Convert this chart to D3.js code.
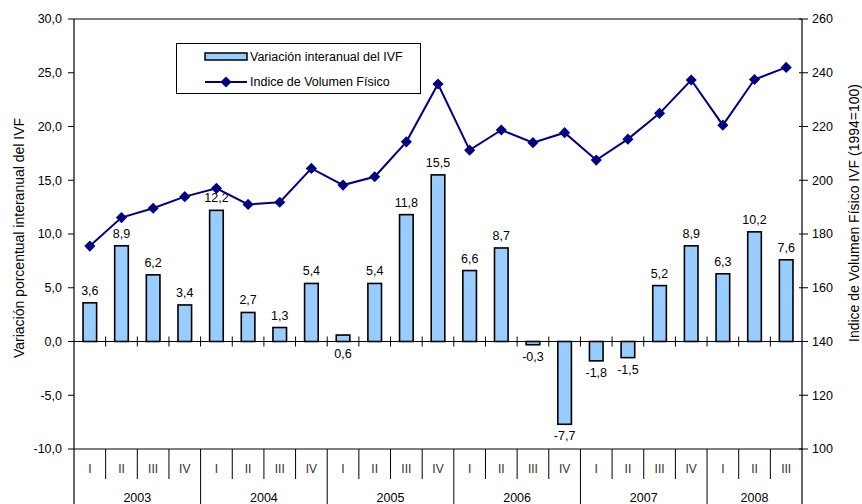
<!DOCTYPE html>
<html>
<head>
<meta charset="utf-8">
<script src="https://cdn.jsdelivr.net/npm/d3@7/dist/d3.min.js"></script>
<style>
  html, body { margin: 0; padding: 0; background: #fff; }
  svg { display: block; }
  text { font-family: "Liberation Sans Narrow", "Arial Narrow", "Liberation Sans", Arial, sans-serif; }
</style>
</head>
<body>
<svg id="chart" width="862" height="504"></svg>
<script>
const years = ["2003", "2004", "2005", "2006", "2007", "2008"];
const quarterNames = ["I", "II", "III", "IV"];
const quarters = ["I","II","III","IV","I","II","III","IV","I","II","III","IV","I","II","III","IV","I","II","III","IV","I","II","III"];
const yearOfQuarter = ["2003","2003","2003","2003","2004","2004","2004","2004","2005","2005","2005","2005","2006","2006","2006","2006","2007","2007","2007","2007","2008","2008","2008"];
const variacion = [3.6, 8.9, 6.2, 3.4, 12.2, 2.7, 1.3, 5.4, 0.6, 5.4, 11.8, 15.5, 6.6, 8.7, -0.3, -7.7, -1.8, -1.5, 5.2, 8.9, 6.3, 10.2, 7.6];
const indice = [175.5, 186.1, 189.6, 193.9, 197.0, 191.0, 191.8, 204.4, 198.2, 201.3, 214.3, 235.8, 211.2, 218.7, 214.0, 217.7, 207.5, 215.3, 224.9, 237.3, 220.5, 237.5, 242.0];
const leftTicks = [-10, -5, 0, 5, 10, 15, 20, 25, 30];
const rightTicks = [100, 120, 140, 160, 180, 200, 220, 240, 260];
const leftTitle = "Variación porcentual interanual del IVF";
const rightTitle = "Indice de Volumen Físico IVF (1994=100)";
const legendBar = "Variación interanual del IVF";
const legendLine = "Indice de Volumen Físico";

const svg = d3.select("#chart");
const L = 74, R = 802, T = 19, B = 449;
const fmt = v => d3.format(".1f")(v).replace(".", ",").replace("−", "-");

const idx = d3.range(quarters.length);
const x = d3.scaleBand().domain(idx).range([L, R]).padding(0);
const bw = x.bandwidth();
const yL = d3.scaleLinear().domain([-10, 30]).range([B, T]);
const yR = d3.scaleLinear().domain([100, 260]).range([B, T]);
const y0 = yL(0);

// plot frame
svg.append("line").attr("x1", L).attr("x2", R).attr("y1", T).attr("y2", T).attr("stroke", "#000").attr("stroke-width", 1);
svg.append("line").attr("x1", L).attr("x2", R).attr("y1", B).attr("y2", B).attr("stroke", "#000").attr("stroke-width", 1);

// bars
const barW = bw * 0.43;
svg.append("g").selectAll("rect").data(idx).join("rect")
  .attr("x", i => x(i) + (bw - barW) / 2)
  .attr("y", i => Math.min(yL(variacion[i]), y0))
  .attr("width", barW)
  .attr("height", i => Math.abs(yL(variacion[i]) - y0))
  .attr("fill", "#99CCFF")
  .attr("stroke", "#000")
  .attr("stroke-width", 1.6);

// zero axis with ticks
svg.append("line").attr("x1", L).attr("x2", R).attr("y1", y0).attr("y2", y0).attr("stroke", "#000").attr("stroke-width", 1);
svg.append("g").selectAll("line").data(d3.range(1, quarters.length)).join("line")
  .attr("x1", i => x(i)).attr("x2", i => x(i))
  .attr("y1", y0 - 5).attr("y2", y0 + 5)
  .attr("stroke", "#000").attr("stroke-width", 1);

// data labels
svg.append("g").selectAll("text").data(idx).join("text")
  .attr("x", i => x(i) + bw / 2)
  .attr("y", i => variacion[i] >= 1 ? yL(variacion[i]) - 8 : Math.max(yL(variacion[i]), y0) + 16)
  .attr("text-anchor", "middle")
  .attr("font-size", 12.5)
  .attr("fill", "#000")
  .text(i => fmt(variacion[i]));

// line
const line = d3.line().x(i => x(i) + bw / 2).y(i => yR(indice[i]));
svg.append("path").datum(idx).attr("d", line)
  .attr("fill", "none").attr("stroke", "#000080").attr("stroke-width", 2);
const diamond = d3.symbol().type(d3.symbolSquare).size(62);
svg.append("g").selectAll("path").data(idx).join("path")
  .attr("d", diamond)
  .attr("transform", i => `translate(${x(i) + bw / 2},${yR(indice[i])}) rotate(45)`)
  .attr("fill", "#000080");

// left axis
const gL = svg.append("g").attr("transform", `translate(${L},0)`);
gL.append("line").attr("x1", 0).attr("x2", 0).attr("y1", T).attr("y2", 504).attr("stroke", "#000").attr("stroke-width", 1.2);
gL.selectAll("line.t").data(leftTicks).join("line").attr("class", "t")
  .attr("x1", -6).attr("x2", 0).attr("y1", d => yL(d)).attr("y2", d => yL(d)).attr("stroke", "#000");
gL.selectAll("text").data(leftTicks).join("text")
  .attr("x", -12).attr("y", d => yL(d)).attr("dy", "0.35em")
  .attr("text-anchor", "end").attr("font-size", 12.5).text(d => fmt(d));

// right axis
const gR = svg.append("g").attr("transform", `translate(${R},0)`);
gR.append("line").attr("x1", 0).attr("x2", 0).attr("y1", T).attr("y2", 504).attr("stroke", "#000").attr("stroke-width", 1.2);
gR.selectAll("line.t").data(rightTicks).join("line").attr("class", "t")
  .attr("x1", -3).attr("x2", 6).attr("y1", d => yR(d)).attr("y2", d => yR(d)).attr("stroke", "#000");
gR.selectAll("text").data(rightTicks).join("text")
  .attr("x", 10).attr("y", d => yR(d)).attr("dy", "0.35em")
  .attr("text-anchor", "start").attr("font-size", 12.5).text(d => d);

// category table
const gC = svg.append("g");
gC.selectAll("line.q").data(d3.range(1, quarters.length)).join("line").attr("class", "q")
  .attr("x1", i => x(i)).attr("x2", i => x(i))
  .attr("y1", B).attr("y2", i => quarters[i] === "I" ? 504 : 479)
  .attr("stroke", "#000").attr("stroke-width", 1);
gC.selectAll("text.q").data(idx).join("text").attr("class", "q")
  .attr("x", i => x(i) + bw / 2).attr("y", 473)
  .attr("text-anchor", "middle").attr("font-size", 12).attr("fill", "#333")
  .text(i => quarters[i]);
gC.selectAll("text.y").data(years).join("text").attr("class", "y")
  .attr("x", yr => {
    const ii = idx.filter(i => yearOfQuarter[i] === yr);
    return (x(ii[0]) + x(ii[ii.length - 1]) + bw) / 2;
  })
  .attr("y", 502)
  .attr("text-anchor", "middle").attr("font-size", 12.5).attr("fill", "#000")
  .text(yr => yr);

// axis titles
svg.append("text").attr("transform", "translate(24,238) rotate(-90)")
  .attr("text-anchor", "middle").attr("font-size", 14).text(leftTitle);
svg.append("text").attr("transform", "translate(859,213) rotate(-90)")
  .attr("text-anchor", "middle").attr("font-size", 14).text(rightTitle);

// legend
const lg = svg.append("g");
lg.append("rect").attr("x", 176.5).attr("y", 43.5).attr("width", 244).attr("height", 50)
  .attr("fill", "#fff").attr("stroke", "#000").attr("stroke-width", 1);
lg.append("rect").attr("x", 205).attr("y", 53).attr("width", 42).attr("height", 7)
  .attr("fill", "#99CCFF").attr("stroke", "#000").attr("stroke-width", 1.5);
lg.append("text").attr("x", 250).attr("y", 57).attr("dy", "0.35em").attr("font-size", 12.5).text(legendBar);
lg.append("line").attr("x1", 205).attr("x2", 247).attr("y1", 82).attr("y2", 82)
  .attr("stroke", "#000080").attr("stroke-width", 2);
lg.append("path").attr("d", diamond).attr("transform", "translate(226,82) rotate(45)").attr("fill", "#000080");
lg.append("text").attr("x", 250).attr("y", 82).attr("dy", "0.35em").attr("font-size", 12.5).text(legendLine);
</script>
</body>
</html>
